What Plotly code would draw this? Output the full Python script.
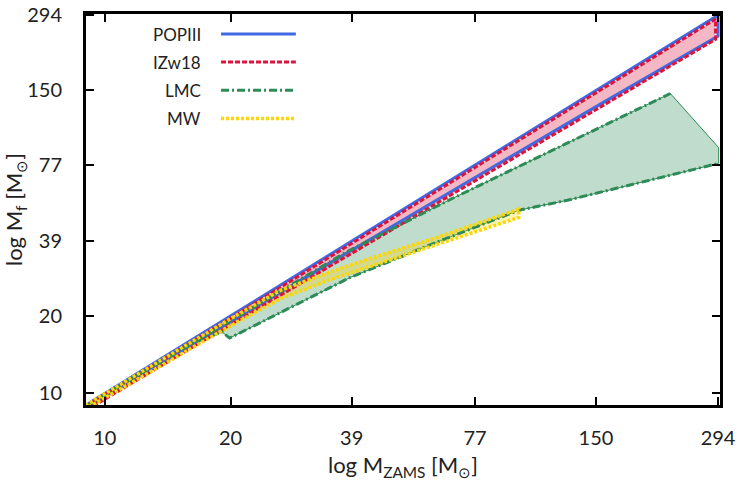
import plotly.graph_objects as go

# ---------------- data ----------------
pop_m      = [9, 10, 20, 39, 77, 150, 294]
pop_upper  = [9, 10, 20, 39, 77, 150, 294]
pop_lower  = [8.8, 9.75, 19.0, 36.1, 68.9, 129.8, 244]

izw_m      = [9, 10, 20, 39, 77, 150, 290]
izw_upper  = [8.9, 9.85, 19.6, 38.2, 75.4, 147, 284]
izw_lower  = [8.6, 9.5, 18.5, 35.2, 67.2, 126.5, 237]

lmc_up_m   = [9, 15, 20, 30, 38, 67, 114, 226]
lmc_upper  = [8.9, 14.5, 19.2, 28.3, 35.5, 56.5, 85.5, 146]
lmc_close_m, lmc_close_f = 295, 90
lmc_lo_m   = [9, 16, 19.1, 19.9, 25, 38.7, 62, 98, 128, 171, 295]
lmc_lower  = [8.9, 15.6, 17.3, 16.4, 19.75, 28.2, 38.5, 51.4, 56.2, 63, 78.2]

mw_m       = [9, 15, 20, 26.3, 35, 43.2, 63.5, 98]
mw_upper   = [9, 14.7, 19.5, 25.1, 29.8, 33.4, 40.7, 51.9]
mw_lower   = [8.7, 14.0, 18.3, 23.3, 27.8, 31.2, 38.2, 48.2]

tick_vals  = [10, 20, 39, 77, 150, 294]
tick_text  = ["10", "20", "39", "77", "150", "294"]

names = ["POPIII", "IZw18", "LMC", "MW"]

BLUE = "#4169e1"
RED = "#dc143c"
GREEN = "#2e8b57"
GOLD = "#ffd700"

FONT = "Lato"

fig = go.Figure()

def poly(xs, up, lo):
    return xs + xs[::-1] + [xs[0]], up + lo[::-1] + [up[0]]

# LMC fill polygon (thin outline)
lx = lmc_up_m + [lmc_close_m] + lmc_lo_m[::-1]
ly = lmc_upper + [lmc_close_f] + lmc_lower[::-1]
fig.add_trace(go.Scatter(x=lx, y=ly, mode="lines", fill="toself",
                         fillcolor="rgba(46,139,87,0.3)",
                         line=dict(color=GREEN, width=1), hoverinfo="skip"))

# MW fill
mx, my = poly(mw_m, mw_upper, mw_lower)
fig.add_trace(go.Scatter(x=mx, y=my, mode="lines", fill="toself",
                         fillcolor="rgba(255,215,0,0.3)",
                         line=dict(color="rgba(0,0,0,0)", width=0), hoverinfo="skip"))

# IZw18 fill
ix, iy = poly(izw_m, izw_upper, izw_lower)
fig.add_trace(go.Scatter(x=ix, y=iy, mode="lines", fill="toself",
                         fillcolor="rgba(220,20,60,0.3)",
                         line=dict(color="rgba(0,0,0,0)", width=0), hoverinfo="skip"))

# POPIII outline
px_, py_ = poly(pop_m, pop_upper, pop_lower)
fig.add_trace(go.Scatter(x=px_, y=py_, mode="lines",
                         line=dict(color=BLUE, width=3), hoverinfo="skip"))

# IZw18 dashed outline
fig.add_trace(go.Scatter(x=ix, y=iy, mode="lines",
                         line=dict(color=RED, width=3, dash="5px,2px"), hoverinfo="skip"))

# LMC dash-dot lines
fig.add_trace(go.Scatter(x=lmc_up_m, y=lmc_upper, mode="lines",
                         line=dict(color=GREEN, width=3, dash="8px,3px,2px,3px"), hoverinfo="skip"))
fig.add_trace(go.Scatter(x=lmc_lo_m, y=lmc_lower, mode="lines",
                         line=dict(color=GREEN, width=3, dash="8px,3px,2px,3px"), hoverinfo="skip"))

# MW dotted outline
fig.add_trace(go.Scatter(x=mx, y=my, mode="lines",
                         line=dict(color=GOLD, width=3.5, dash="3px,2px"), hoverinfo="skip"))

rng = [0.955, 2.473]

axis_common = dict(
    type="log", range=rng, tickvals=tick_vals, ticktext=tick_text,
    showgrid=False, zeroline=False, showline=True, linecolor="black", linewidth=3,
    mirror="allticks", ticks="inside", ticklen=8, tickwidth=2, tickcolor="black",
    tickfont=dict(family=FONT, size=20, color="#222"), automargin=False,
)

fig.update_layout(
    width=738, height=493,
    margin=dict(l=86, r=18, t=14, b=88, autoexpand=False),
    paper_bgcolor="white", plot_bgcolor="white",
    showlegend=False,
    xaxis=dict(**axis_common, ticklabelstandoff=13,
               title=dict(text="log M<sub>ZAMS</sub> [M<sub>⊙</sub>]",
                          font=dict(family=FONT, size=22, color="#222"), standoff=10)),
    yaxis=dict(**axis_common, ticklabelstandoff=17,
               title=dict(text="log M<sub>f</sub> [M<sub>⊙</sub>]",
                          font=dict(family=FONT, size=22, color="#222"), standoff=4)),
)

# manual legend: text right-aligned, sample line on the right
styles = [dict(color=BLUE, width=3, dash="solid"),
          dict(color=RED, width=3, dash="5px,2px"),
          dict(color=GREEN, width=3, dash="8px,3px,2px,3px"),
          dict(color=GOLD, width=3.5, dash="3px,2px")]
leg_y = [0.9487, 0.877, 0.805, 0.733]
for name, st, yy in zip(names, styles, leg_y):
    fig.add_annotation(x=0.1845, y=yy, xref="paper", yref="paper", text=name,
                       showarrow=False, xanchor="right", yanchor="middle",
                       font=dict(family=FONT, size=17, color="#222"))
    fig.add_shape(type="line", xref="paper", yref="paper",
                  x0=0.213, x1=0.331, y0=yy, y1=yy, line=st)

fig.write_html("out.html", config={"displayModeBar": False},
               post_script="document.body.style.margin='0';document.body.style.padding='0';")
